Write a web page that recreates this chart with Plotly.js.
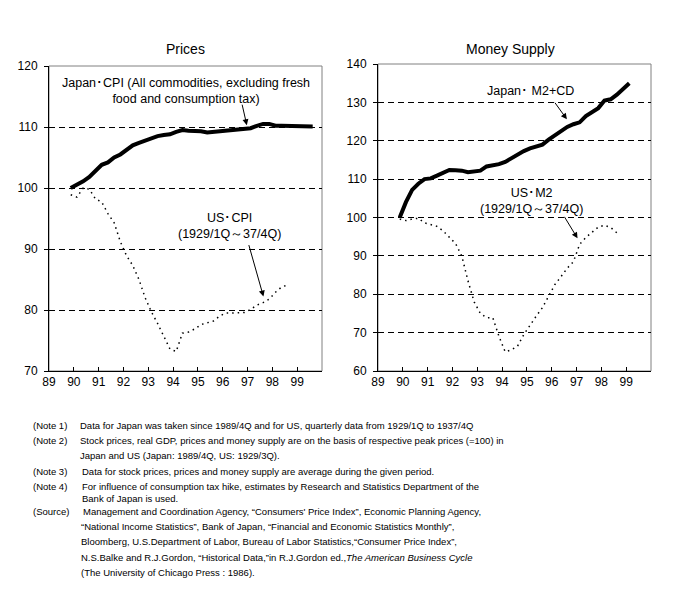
<!DOCTYPE html>
<html>
<head>
<meta charset="utf-8">
<script src="https://cdn.plot.ly/plotly-3.0.1.min.js"></script>
<style>html,body{margin:0;padding:0;background:#fff;}#chart{width:684px;height:602px;}</style>
</head>
<body>
<div id="chart"></div>
<script>
// Quarterly series, first point = 1989/4Q (Japan) and 1929/1Q (US), aligned by start
const xStart = 89.875; // position of first quarter on the year axis
const yearTicks = [89, 90, 91, 92, 93, 94, 95, 96, 97, 98, 99];
const yearTickLabels = ['89', '90', '91', '92', '93', '94', '95', '96', '97', '98', '99'];

const japanCPI = [100.0, 100.5, 101.1, 101.8, 102.8, 103.8, 104.2, 105.0, 105.5, 106.2,
  107.0, 107.4, 107.8, 108.1, 108.5, 108.7, 108.8, 109.2, 109.5, 109.4,
  109.4, 109.3, 109.1, 109.2, 109.3, 109.3, 109.4, 109.5, 109.6, 109.8,
  110.2, 110.5, 110.5, 110.2, 110.2, 110.2, 110.2, 110.2, 110.1, 110.1];

const usCPI = [98.9, 98.5, 100.0, 99.8, 98.2, 97.7, 95.8, 94.3, 91.2, 88.9,
  87.3, 85.0, 82.0, 79.7, 77.8, 75.8, 73.6, 73.2, 76.2, 76.4,
  76.9, 77.6, 77.9, 78.2, 79.0, 79.5, 79.5, 79.6, 79.6, 80.1,
  80.8, 81.2, 81.8, 82.9, 83.8, 84.1];

const japanM2CD = [100.0, 104.0, 107.2, 108.8, 110.0, 110.2, 110.9, 111.8, 112.4, 112.3,
  112.2, 111.8, 111.9, 112.2, 113.3, 113.6, 113.9, 114.5, 115.5, 116.4,
  117.3, 118.0, 118.5, 119.0, 120.3, 121.5, 122.6, 123.6, 124.3, 124.8,
  126.4, 127.5, 128.5, 130.5, 130.8, 132.0, 133.5, 135.0];

const usM2 = [99.6, 99.2, 99.6, 99.8, 98.6, 98.1, 97.7, 96.5, 94.9, 93.2,
  90.0, 83.5, 78.0, 75.0, 73.9, 73.9, 69.0, 65.0, 65.5, 66.5,
  69.5, 72.0, 74.3, 76.5, 79.5, 82.5, 84.6, 86.8, 88.5, 93.0,
  94.8, 96.2, 97.5, 98.0, 97.4, 96.0];

function qx(arr) { return arr.map((_, i) => xStart + i * 0.25); }

const FONT = 'Liberation Sans, Arial, sans-serif';
const NOTEFONT = 'Liberation Sans, Arial, sans-serif';
const solid = {color: '#000', width: 4};
const dotted = {color: '#000', width: 1.5, dash: '1.5px,4px'};

const traces = [
  {x: qx(japanCPI), y: japanCPI, xaxis: 'x', yaxis: 'y', mode: 'lines', line: solid, hoverinfo: 'skip'},
  {x: qx(usCPI), y: usCPI, xaxis: 'x', yaxis: 'y', mode: 'lines', line: dotted, hoverinfo: 'skip'},
  {x: qx(japanM2CD), y: japanM2CD, xaxis: 'x2', yaxis: 'y2', mode: 'lines', line: solid, hoverinfo: 'skip'},
  {x: qx(usM2), y: usM2, xaxis: 'x2', yaxis: 'y2', mode: 'lines', line: dotted, hoverinfo: 'skip'}
];

function xAxis(domain, anchor) {
  return {domain: domain, anchor: anchor, range: [89, 100], tickvals: yearTicks, ticktext: yearTickLabels,
    ticks: 'inside', ticklen: 4, tickcolor: '#000', showline: true, linecolor: '#000', linewidth: 1,
    showgrid: false, zeroline: false, tickfont: {family: FONT, size: 12, color: '#000'}, fixedrange: true};
}
function yAxis(domain, anchor, range) {
  return {domain: domain, anchor: anchor, range: range, dtick: 10, tick0: 0,
    ticks: 'outside', ticklen: 4, tickcolor: '#000', showline: true, linecolor: '#000', linewidth: 1,
    showgrid: true, gridcolor: '#000', gridwidth: 1, griddash: '6px,4px', zeroline: false,
    ticklabelstandoff: 4, tickfont: {family: FONT, size: 12, color: '#000'}, fixedrange: true};
}

const ann = [];
function txt(text, x, y, xref, yref, opts) {
  ann.push(Object.assign({text: text, x: x, y: y, xref: xref, yref: yref, showarrow: false,
    xanchor: 'center', yanchor: 'middle',
    font: {family: FONT, size: 12.5, color: '#000'}}, opts || {}));
}
function arrow(x, y, xref, yref, ax, ay) {
  ann.push({text: '', x: x, y: y, xref: xref, yref: yref, ax: ax, ay: ay, showarrow: true,
    arrowhead: 2, arrowsize: 1.2, arrowwidth: 1, arrowcolor: '#000'});
}

// titles
txt('Prices', 0.5, 1 - 49 / 602, 'x domain', 'paper', {font: {family: FONT, size: 14, color: '#000'}});
txt('Money Supply', 0.5, 1 - 49 / 602, 'x2 domain', 'paper', {font: {family: FONT, size: 14, color: '#000'}, xshift: -4});

// series labels
txt('Japan･CPI (All commodities, excluding fresh<br>food and consumption tax)', 0.5, 1 - 91 / 602, 'x domain', 'paper', {align: 'center'});
arrow(96.97, 110.3, 'x', 'y', -5, -22);
txt('US･CPI<br>(1929/1Q～37/4Q)', 96.26, 1 - 226 / 602, 'x', 'paper', {align: 'center'});
arrow(97.64, 82.2, 'x', 'y', -15, -53);

txt('Japan･ M2+CD', 95.13, 1 - 91 / 602, 'x2', 'paper');
arrow(96.61, 125.6, 'x2', 'y2', -13, -18);
txt('US･M2<br>(1929/1Q～37/4Q)', 95.19, 1 - 201 / 602, 'x2', 'paper', {align: 'center'});
arrow(97.04, 94.57, 'x2', 'y2', -14, -23);

// notes
const noteLabels = ['(Note 1)', '(Note 2)', '', '(Note 3)', '(Note 4)', '', '(Source)', '', '', '', ''];
const noteLines = [
  'Data for Japan was taken since 1989/4Q and for US, quarterly data from 1929/1Q to 1937/4Q',
  'Stock prices, real GDP, prices and money supply are on the basis of respective peak prices (=100) in',
  'Japan and US (Japan: 1989/4Q, US: 1929/3Q).',
  'Data for stock prices, prices and money supply are average during the given period.',
  'For influence of consumption tax hike, estimates by Research and Statistics Department of the',
  'Bank of Japan is used.',
  'Management and Coordination Agency, “Consumers\' Price Index”, Economic Planning Agency,',
  '“National Income Statistics”, Bank of Japan, “Financial and Economic Statistics Monthly”,',
  'Bloomberg, U.S.Department of Labor, Bureau of Labor Statistics,“Consumer Price Index”,',
  'N.S.Balke and R.J.Gordon, “Historical Data,”in R.J.Gordon ed.,<i>The American Business Cycle</i>',
  '(The University of Chicago Press : 1986).'
];
const noteY = [425, 440, 455, 471, 486, 498, 511, 526, 541, 557, 572];
const noteX = [78, 78, 78, 80, 80, 80, 81, 79, 79, 79, 79];
const noteFont = {family: NOTEFONT, size: 9.5, color: '#000'};
noteLines.forEach((t, i) => {
  if (noteLabels[i]) ann.push({text: noteLabels[i], x: 31 / 684, y: 1 - noteY[i] / 602, xref: 'paper', yref: 'paper',
    xanchor: 'left', yanchor: 'middle', showarrow: false, font: noteFont});
  ann.push({text: t, x: noteX[i] / 684, y: 1 - noteY[i] / 602, xref: 'paper', yref: 'paper',
    xanchor: 'left', yanchor: 'middle', showarrow: false, font: noteFont});
});

const frame = (xr, yr) => ({type: 'rect', xref: xr, yref: yr, x0: 0, x1: 1, y0: 0, y1: 1,
  line: {color: '#808080', width: 1}, layer: 'below'});

const layout = {
  width: 684, height: 602, margin: {l: 0, r: 0, t: 0, b: 0},
  paper_bgcolor: '#fff', plot_bgcolor: '#fff', showlegend: false,
  xaxis: xAxis([49 / 684, 322 / 684], 'y'),
  yaxis: yAxis([1 - 371 / 602, 1 - 66 / 602], 'x', [70, 120]),
  xaxis2: xAxis([378 / 684, 651 / 684], 'y2'),
  yaxis2: yAxis([1 - 371 / 602, 1 - 64 / 602], 'x2', [60, 140]),
  shapes: [frame('x domain', 'y domain'), frame('x2 domain', 'y2 domain')],
  annotations: ann
};

Plotly.newPlot('chart', traces, layout, {staticPlot: true, displayModeBar: false});
</script>
</body>
</html>
